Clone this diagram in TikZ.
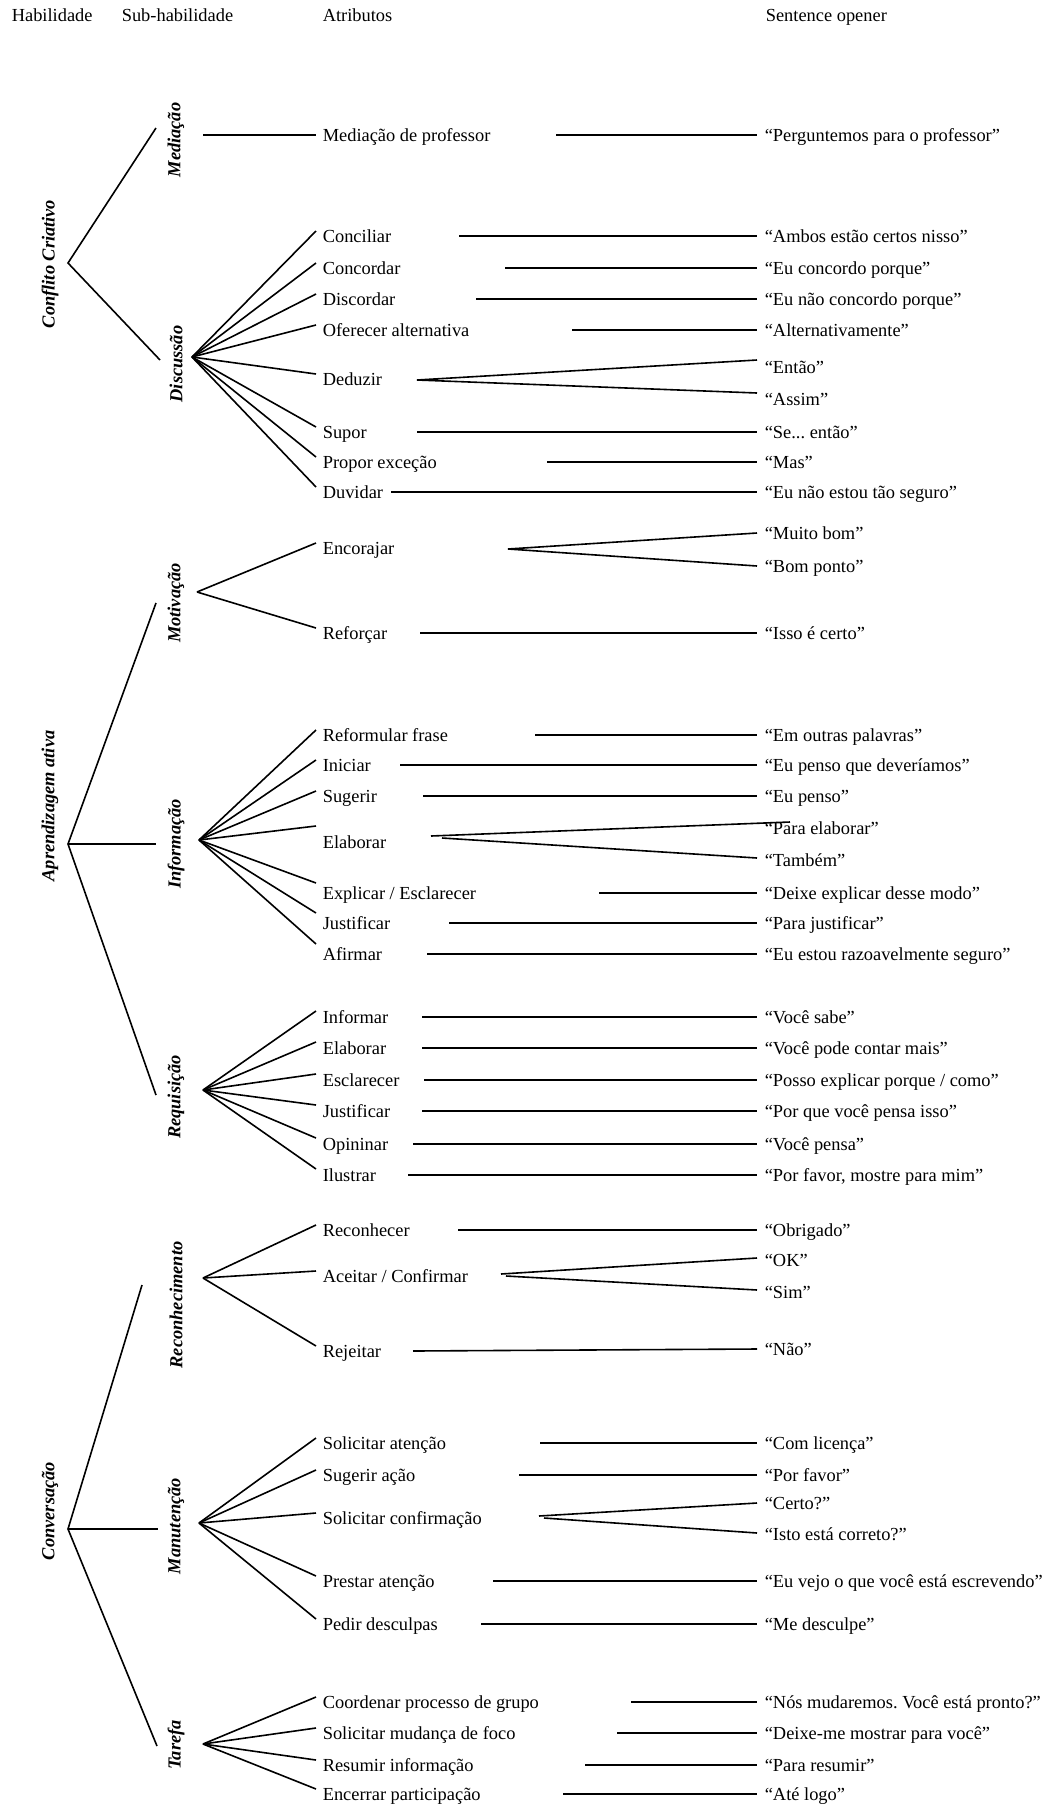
\documentclass[tikz,border=0pt]{standalone}
\usepackage{fontspec}
\setmainfont{Liberation Serif}
\usetikzlibrary{calc}
\frenchspacing
\newcommand\myrow[6]{%
  \node[attr] (#1) at (316,#2) {#3};
  \node[quo] (#1q) at (757,#2) {#6};
  \coordinate (#1s) at (#4,#2);
  \draw (#1s) -- (#1q.west);
}
\begin{document}
\begin{tikzpicture}[x=1pt,y=-1pt,line width=1.6pt,
  every node/.style={inner sep=0pt,font=\fontsize{18.4}{21}\selectfont},
  txt/.style={anchor=west,text height=15pt,text depth=3pt},
  attr/.style={txt,inner xsep=6pt},
  quo/.style={txt,inner xsep=7pt},
  lab/.style={rotate=90,font=\fontsize{18.4}{21}\selectfont\bfseries\itshape}]
\useasboundingbox (0,0) rectangle (1055,1805);
% headers
\node[txt] (h1) at (11,15) {Habilidade};
\node[txt] (h2) at (121,15) {Sub-habilidade};
\node[txt] (h3) at (322,15) {Atributos};
\node[txt] (h4) at (765,15) {Sentence opener};
% level 1
\node[lab] (CC) at (50,264) {Conflito Criativo};
\node[lab] (AA) at (50,806) {Aprendizagem ativa};
\node[lab] (CV) at (50,1511) {Conversação};
\coordinate (vCC) at (68,263);
\coordinate (vAA) at (68,844);
\coordinate (vCV) at (68,1529);
% level 2
\node[lab] (Med) at (176,140) {Mediação};
\node[lab] (Dis) at (176,364) {Discussão};
\node[lab] (Mot) at (176,603) {Motivação};
\node[lab] (Inf) at (176,844) {Informação};
\node[lab] (Req) at (176,1097) {Requisição};
\node[lab] (Rec) at (176,1305) {Reconhecimento};
\node[lab] (Man) at (176,1526) {Manutenção};
\node[lab] (Tar) at (176,1745) {Tarefa};
\coordinate (eMed) at (156,128);
\coordinate (eDis) at (160,360);
\coordinate (eMot) at (156,603);
\coordinate (eInf) at (156,844);
\coordinate (eReq) at (156,1095);
\coordinate (eRec) at (142,1285);
\coordinate (eMan) at (158,1529);
\coordinate (eTar) at (157,1746);
\draw (eMed) -- (vCC) -- (eDis);
\draw (eMot) -- (vAA) -- (eReq);
\draw (vAA) -- (eInf);
\draw (eRec) -- (vCV) -- (eTar);
\draw (vCV) -- (eMan);
% fan vertices
\coordinate (vMed) at (203,135);
\coordinate (vDis) at (192,357);
\coordinate (vMot) at (197,592);
\coordinate (vInf) at (199,840);
\coordinate (vReq) at (203,1090);
\coordinate (vRec) at (203,1278);
\coordinate (vMan) at (199,1523);
\coordinate (vTar) at (203,1744);
% Mediacao
\myrow{md}{135}{Mediação de professor}{556}{}{“Perguntemos para o professor”}
\draw (vMed) -- (md.west);
% Discussao
\myrow{d1}{236}{Conciliar}{459}{}{“Ambos estão certos nisso”}
\myrow{d2}{268}{Concordar}{505}{}{“Eu concordo porque”}
\myrow{d3}{299}{Discordar}{476}{}{“Eu não concordo porque”}
\myrow{d4}{330}{Oferecer alternativa}{572}{}{“Alternativamente”}
\node[attr] (d5) at (316,379) {Deduzir};
\node[quo] (d5a) at (757,367) {“Então”};
\node[quo] (d5b) at (757,399) {“Assim”};
\coordinate (d5s) at (417,380);
\draw ([yshift=7pt]d5a.west) -- (d5s) -- ([yshift=6pt]d5b.west);
\myrow{d6}{432}{Supor}{417}{}{“Se... então”}
\myrow{d7}{462}{Propor exceção}{547}{}{“Mas”}
\myrow{d8}{492}{Duvidar}{391}{}{“Eu não estou tão seguro”}
\foreach \n in {d1,d2,d3,d4,d5,d6,d7,d8} \draw (vDis) -- ([yshift=5pt]\n.west);
% Motivacao
\node[attr] (m1) at (316,548) {Encorajar};
\node[quo] (m1a) at (757,533) {“Muito bom”};
\node[quo] (m1b) at (757,566) {“Bom ponto”};
\coordinate (m1s) at (508,549);
\draw (m1a.west) -- (m1s) -- (m1b.west);
\myrow{m2}{633}{Reforçar}{420}{}{“Isso é certo”}
\foreach \n in {m1,m2} \draw (vMot) -- ([yshift=5pt]\n.west);
% Informacao
\myrow{i1}{735}{Reformular frase}{535}{}{“Em outras palavras”}
\myrow{i2}{765}{Iniciar}{400}{}{“Eu penso que deveríamos”}
\myrow{i3}{796}{Sugerir}{423}{}{“Eu penso”}
\node[attr] (i4) at (316,842) {Elaborar};
\node[quo] (i4a) at (757,828) {“Para elaborar”};
\node[quo] (i4b) at (757,860) {“Também”};
\coordinate (i4s) at (431,836);
\coordinate (i4t) at (442,838);
\coordinate (i4e) at (790,822);
\draw (i4s) -- (i4e);
\draw (i4t) -- ([yshift=2pt]i4b.west);
\myrow{i5}{893}{Explicar / Esclarecer}{599}{}{“Deixe explicar desse modo”}
\myrow{i6}{923}{Justificar}{449}{}{“Para justificar”}
\myrow{i7}{954}{Afirmar}{427}{}{“Eu estou razoavelmente seguro”}
\foreach \n in {i1,i2,i3} \draw (vInf) -- ([yshift=5pt]\n.west);
\draw (vInf) -- ([yshift=16pt]i4.west);
\foreach \n in {i5,i6,i7} \draw (vInf) -- ([yshift=10pt]\n.west);
% Requisicao
\myrow{r1}{1017}{Informar}{422}{}{“Você sabe”}
\myrow{r2}{1048}{Elaborar}{422}{}{“Você pode contar mais”}
\myrow{r3}{1080}{Esclarecer}{424}{}{“Posso explicar porque / como”}
\myrow{r4}{1111}{Justificar}{422}{}{“Por que você pensa isso”}
\myrow{r5}{1144}{Opininar}{413}{}{“Você pensa”}
\myrow{r6}{1175}{Ilustrar}{408}{}{“Por favor, mostre para mim”}
\foreach \n in {r1,r2,r3,r4,r5,r6} \draw (vReq) -- ([yshift=6pt]\n.west);
% Reconhecimento
\myrow{c1}{1230}{Reconhecer}{458}{}{“Obrigado”}
\node[attr] (c2) at (316,1276) {Aceitar / Confirmar};
\node[quo] (c2a) at (757,1260) {“OK”};
\node[quo] (c2b) at (757,1292) {“Sim”};
\coordinate (c2s) at (501,1274);
\coordinate (c2t) at (506,1276);
\draw (c2s) -- ([yshift=2pt]c2a.west);
\draw (c2t) -- ([yshift=2pt]c2b.west);
\node[attr] (c3) at (316,1351) {Rejeitar};
\node[quo] (c3q) at (757,1349) {“Não”};
\coordinate (c3s) at (413,1351);
\draw (c3s) -- (c3q.west);
\foreach \n in {c1,c2,c3} \draw (vRec) -- ([yshift=5pt]\n.west);
% Manutencao
\myrow{n1}{1443}{Solicitar atenção}{540}{}{“Com licença”}
\myrow{n2}{1475}{Sugerir ação}{519}{}{“Por favor”}
\node[attr] (n3) at (316,1518) {Solicitar confirmação};
\node[quo] (n3a) at (757,1503) {“Certo?”};
\node[quo] (n3b) at (757,1534) {“Isto está correto?”};
\coordinate (n3s) at (539,1516);
\coordinate (n3t) at (544,1518);
\draw (n3s) -- (n3a.west);
\draw (n3t) -- ([yshift=1pt]n3b.west);
\myrow{n4}{1581}{Prestar atenção}{493}{}{“Eu vejo o que você está escrevendo”}
\myrow{n5}{1624}{Pedir desculpas}{481}{}{“Me desculpe”}
\foreach \n in {n1,n2,n3,n4,n5} \draw (vMan) -- ([yshift=5pt]\n.west);
% Tarefa
\myrow{t1}{1702}{Coordenar processo de grupo}{631}{}{“Nós mudaremos. Você está pronto?”}
\myrow{t2}{1733}{Solicitar mudança de foco}{617}{}{“Deixe-me mostrar para você”}
\myrow{t3}{1765}{Resumir informação}{585}{}{“Para resumir”}
\myrow{t4}{1794}{Encerrar participação}{563}{}{“Até logo”}
\foreach \n in {t1,t2,t3,t4} \draw (vTar) -- ([yshift=5pt]\n.west);
\end{tikzpicture}
\end{document}
